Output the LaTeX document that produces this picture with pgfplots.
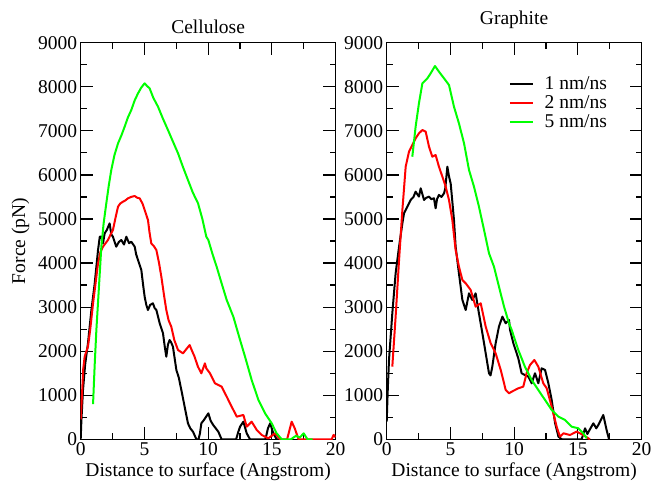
\documentclass[border=0pt]{standalone}
\usepackage{fontspec}
\setmainfont{Liberation Serif}
\usepackage{pgfplots}
\pgfplotsset{compat=1.18}

\pgfplotsset{
  forcepanel/.style={
    scale only axis,
    width=254.8pt, height=396.6pt,
    xmin=0, xmax=20, ymin=0, ymax=9000,
    xtick={0,5,10,15,20}, ytick={0,1000,...,9000},
    minor x tick num=1, minor y tick num=1,
    tick align=inside, xtick pos=both, ytick pos=both,
    xticklabel pos=lower, yticklabel pos=left,
    major tick length=12pt, minor tick length=6pt,
    every tick/.style={line width=1.2pt, black},
    axis line style={line width=1.3pt},
    scaled y ticks=false,
    /pgf/number format/assume math mode=true,
    /pgf/number format/1000 sep={},
    tick label style={font=\fontsize{19.5}{22}\selectfont},
    label style={font=\fontsize{19.5}{22}\selectfont},
    title style={font=\fontsize{19.5}{22}\selectfont},
    xlabel={Distance to surface (Angstrom)},
    clip=true,
    every axis plot/.append style={line width=2pt, line join=round},
  }
}

\begin{document}
\begin{tikzpicture}
\path[use as bounding box] (-80.7pt,-43.7pt) rectangle (571.3pt,439.3pt);

\begin{axis}[forcepanel, at={(0pt,0pt)}, anchor=south west,
  title={Cellulose}, title style={yshift=-0.5pt},
  ylabel={Force (pN)}, ylabel shift=2pt]
\addplot[color=black] coordinates {
(0,0) (0.05,400) (0.18,1118) (0.35,1700) (0.57,2178) (0.84,2934) (1.1,3538)
(1.36,4295) (1.5,4600) (1.62,4597) (1.75,4450) (1.88,4673) (2.05,4750) (2.27,4900)
(2.4,4650) (2.53,4597) (2.79,4371) (3.0,4480) (3.19,4522) (3.4,4420) (3.58,4597)
(3.8,4450) (3.97,4484) (4.24,4371) (4.35,4200) (4.5,4068) (4.76,3841) (4.9,3500)
(5.02,3236) (5.15,3050) (5.28,2934) (5.45,3050) (5.67,3086) (5.8,2980) (5.94,2934)
(6.2,2632) (6.46,2405) (6.6,2100) (6.72,1874) (6.85,2150) (6.98,2253) (7.1,2200)
(7.24,2102) (7.51,1572) (7.7,1400) (7.9,1118) (8.16,740) (8.42,362) (8.6,250)
(8.82,170) (9.08,0) (9.25,0) (9.36,136) (9.47,362) (9.7,450) (10.02,590)
(10.2,420) (10.4,325) (10.6,250) (10.8,174) (11.06,0) (12.2,0) (12.35,150)
(12.51,287) (12.77,400) (13.03,136) (13.29,0) (14.5,0) (14.7,250) (14.87,363)
(15.12,136) (15.38,0) (15.5,0)
};
\addplot[color=red] coordinates {
(0,450) (0.1,1000) (0.2,1600) (0.31,1874) (0.45,2000) (0.57,2100) (0.75,2500)
(0.97,3086) (1.15,3500) (1.36,3994) (1.55,4250) (1.75,4371) (1.95,4450) (2.14,4522)
(2.35,4650) (2.53,4749) (2.75,5050) (2.93,5279) (3.1,5350) (3.32,5392) (3.5,5420)
(3.71,5468) (3.95,5500) (4.24,5521) (4.45,5480) (4.63,5468) (4.85,5350) (5.02,5204)
(5.28,4976) (5.4,4700) (5.54,4446) (5.75,4380) (5.94,4295) (6.15,4000) (6.33,3690)
(6.55,3250) (6.72,2934) (6.9,2700) (7.11,2556) (7.35,2250) (7.64,2026) (8.03,1950)
(8.3,2050) (8.55,2139) (8.75,2000) (8.94,1874) (9.2,1650) (9.47,1497) (9.75,1724)
(9.86,1610) (10.15,1497) (10.54,1271) (11.06,1195) (11.46,968) (11.85,741)
(12.25,514) (12.77,552) (13.03,287) (13.42,400) (13.82,211) (14.21,98) (14.73,22)
(15.26,136) (15.65,0) (16.2,0) (16.56,400) (16.8,250) (17.1,0) (19.7,0)
(19.85,100) (20,50)
};
\addplot[color=green] coordinates {
(0.97,800) (1.1,1700) (1.23,2480) (1.4,3300) (1.62,4371) (1.8,4900) (2.01,5355)
(2.2,5750) (2.4,6111) (2.65,6450) (2.93,6716) (3.2,6900) (3.45,7094) (3.7,7300)
(3.97,7472) (4.25,7700) (4.5,7851) (4.75,7980) (5.02,8078) (5.2,8020) (5.41,7964)
(5.7,7750) (6.07,7547) (6.45,7280) (6.85,7018) (7.25,6750) (7.64,6490) (8.0,6200)
(8.42,5884) (8.8,5600) (9.21,5355) (9.55,5000) (9.86,4597) (10.02,4522) (10.35,4200)
(10.67,3917) (11.05,3550) (11.46,3161) (11.98,2783) (12.51,2253) (12.9,1874)
(13.42,1346) (13.95,893) (14.47,590) (14.99,363) (15.38,136) (15.78,0) (16.5,0)
(16.9,80) (17.2,40) (17.5,136) (17.8,0) (18.2,0)
};
\end{axis}

\begin{axis}[forcepanel, at={(306pt,0pt)}, anchor=south west,
  title={Graphite}, title style={yshift=4.5pt},
  legend style={draw=none, fill=none, inner sep=0pt,
    at={(rel axis cs:0.48,0.92)}, anchor=north west,
    font=\fontsize{19.5}{22}\selectfont, row sep=0pt, column sep=10pt,
    nodes={inner sep=1pt, text height=14pt, text depth=3pt}},
  legend cell align=left,
  legend image code/.code={\draw[#1, line width=1.5pt] (0pt,0pt) -- (23pt,0pt);}]
\addplot[color=black] coordinates {
(0,400) (0.08,1100) (0.18,1800) (0.44,2858) (0.7,3767) (0.97,4372) (1.23,4901)
(1.36,5128) (1.62,5280) (1.88,5431) (2.1,5500) (2.27,5620) (2.53,5507) (2.67,5696)
(2.93,5431) (3.1,5480) (3.32,5507) (3.5,5450) (3.71,5469) (3.84,5242) (3.95,5450)
(4.1,5545) (4.3,5500) (4.5,5583) (4.6,5700) (4.76,6187) (4.9,5950) (5.02,5809)
(5.15,5400) (5.28,4977) (5.41,4372) (5.67,3767) (5.94,3162) (6.2,2935) (6.46,3313)
(6.72,3162) (6.98,3313) (7.24,2858) (7.51,2406) (7.77,1952) (8.03,1498) (8.15,1450)
(8.29,1649) (8.55,2179) (8.81,2557) (9.08,2784) (9.34,2633) (9.6,2709) (9.68,2482)
(9.94,2180) (10.33,1838) (10.59,1498) (10.85,1459) (11.12,1422) (11.38,1271)
(11.64,1498) (11.9,1271) (12.16,1611) (12.43,1573) (12.69,1271) (12.95,892)
(13.22,363) (13.48,60) (13.74,0) (15.3,0) (15.57,250) (15.75,120) (15.9,200)
(16.22,363) (16.45,250) (16.61,325) (17.0,552) (17.26,212) (17.45,0)
};
\addplot[color=red] coordinates {
(0.44,1648) (0.7,2783) (0.97,4068) (1.23,5203) (1.49,6187) (1.75,6527) (2.01,6678)
(2.27,6830) (2.53,6943) (2.8,7018) (3.06,6981) (3.32,6641) (3.58,6414) (3.84,6452)
(4.1,6187) (4.37,5960) (4.63,5734) (4.89,5431) (5.15,4977) (5.41,4296) (5.67,3918)
(5.94,3616) (6.2,3540) (6.59,3389) (6.98,3011) (7.38,3086) (7.77,2557) (8.16,2179)
(8.55,1952) (8.95,1574) (9.34,1120) (9.6,1044) (9.81,1081) (10.33,1157) (10.72,1195)
(10.98,1498) (11.25,1687) (11.59,1800) (11.9,1648) (12.29,1271) (12.56,1157)
(12.95,741) (13.34,287) (13.6,60) (13.87,136) (14.39,98) (14.91,174) (15.43,98)
(15.95,0)
};
\addplot[color=green] coordinates {
(2.01,6413) (2.27,7094) (2.53,7624) (2.8,8078) (3.19,8191) (3.45,8305) (3.79,8471)
(4.1,8343) (4.5,8191) (4.89,8040) (5.28,7548) (5.67,7170) (6.07,6717) (6.46,6112)
(6.85,5734) (7.24,5280) (7.64,4751) (8.03,4221) (8.42,3918) (8.81,3464) (9.21,3011)
(9.6,2633) (9.81,2482) (10.33,2026) (10.85,1648) (11.38,1346) (11.9,1119)
(12.43,892) (12.95,666) (13.48,514) (14.0,438) (14.52,287) (15.04,250) (15.43,136)
(15.7,22)
};
\legend{1 nm/ns, 2 nm/ns, 5 nm/ns}
\end{axis}
\end{tikzpicture}
\end{document}
